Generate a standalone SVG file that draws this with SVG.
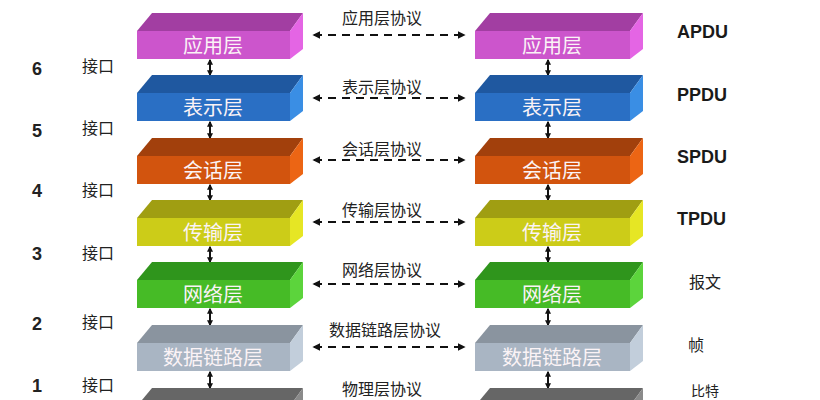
<svg xmlns="http://www.w3.org/2000/svg" width="820" height="400" viewBox="0 0 820 400">
<defs>
<style>
.lbl{font-family:"Noto Sans CJK SC",sans-serif;font-size:20px;fill:#fbf3f6;text-anchor:middle;}
.proto{font-family:"Noto Sans CJK SC",sans-serif;font-size:16px;fill:#222;text-anchor:middle;}
.num{font-family:"Liberation Sans",Arial,sans-serif;font-size:18px;font-weight:bold;fill:#222;text-anchor:middle;}
.if{font-family:"Noto Sans CJK SC",sans-serif;font-size:16px;fill:#222;text-anchor:middle;}
.pdu{font-family:"Liberation Sans",Arial,sans-serif;font-size:18px;font-weight:bold;fill:#1a1a1a;}
.pduc{font-family:"Noto Sans CJK SC",sans-serif;font-size:16px;fill:#222;text-anchor:middle;}
.dash{stroke:#111;stroke-width:2;stroke-dasharray:8,6;fill:none;marker-start:url(#ah);marker-end:url(#ah);}
.vert{stroke:#111;stroke-width:2;fill:none;marker-start:url(#vh);marker-end:url(#vh);}
</style>
<marker id="ah" viewBox="0 0 10 10" refX="8" refY="5" markerWidth="4" markerHeight="4" orient="auto-start-reverse"><path d="M0,0 L10,5 L0,10 z" fill="#111"/></marker>
<marker id="vh" viewBox="0 0 10 10" refX="8" refY="5" markerWidth="3" markerHeight="3" orient="auto-start-reverse"><path d="M0,0 L10,5 L0,10 z" fill="#111"/></marker>
</defs>
<rect width="820" height="400" fill="#ffffff"/>

<g id="connectors">
<line class="dash" x1="314" y1="35" x2="464" y2="35"/>
<line class="dash" x1="314" y1="98" x2="464" y2="98"/>
<line class="dash" x1="314" y1="160" x2="464" y2="160"/>
<line class="dash" x1="314" y1="222" x2="464" y2="222"/>
<line class="dash" x1="314" y1="284" x2="464" y2="284"/>
<line class="dash" x1="314" y1="347" x2="464" y2="347"/>
<line class="vert" x1="210" y1="60" x2="210" y2="75"/>
<line class="vert" x1="210" y1="122" x2="210" y2="138"/>
<line class="vert" x1="210" y1="185" x2="210" y2="200"/>
<line class="vert" x1="210" y1="247" x2="210" y2="262"/>
<line class="vert" x1="210" y1="309" x2="210" y2="325"/>
<line class="vert" x1="210" y1="372" x2="210" y2="388"/>
<line class="vert" x1="548" y1="60" x2="548" y2="75"/>
<line class="vert" x1="548" y1="122" x2="548" y2="138"/>
<line class="vert" x1="548" y1="185" x2="548" y2="200"/>
<line class="vert" x1="548" y1="247" x2="548" y2="262"/>
<line class="vert" x1="548" y1="309" x2="548" y2="325"/>
<line class="vert" x1="548" y1="372" x2="548" y2="388"/>
</g>

<g id="app-left" transform="translate(0,13)"><polygon points="152,0 303,0 290,18 137,18" fill="#a23ea2"/><rect x="137" y="18" width="153" height="28" fill="#cc55cc"/><polygon points="290,18 303,0 303,36 290,46" fill="#e465e4"/><text class="lbl" x="213" y="40">应用层</text></g>
<g id="app-right" transform="translate(0,13)"><polygon points="490,0 643,0 630,18 475,18" fill="#a23ea2"/><rect x="475" y="18" width="155" height="28" fill="#cc55cc"/><polygon points="630,18 643,0 643,36 630,46" fill="#e465e4"/><text class="lbl" x="552" y="40">应用层</text></g>

<g id="pres-left" transform="translate(0,75)"><polygon points="152,0 303,0 290,18 137,18" fill="#1f58a0"/><rect x="137" y="18" width="153" height="28" fill="#2a6fc4"/><polygon points="290,18 303,0 303,36 290,46" fill="#3a8ee4"/><text class="lbl" x="213" y="40">表示层</text></g>
<g id="pres-right" transform="translate(0,75)"><polygon points="490,0 643,0 630,18 475,18" fill="#1f58a0"/><rect x="475" y="18" width="155" height="28" fill="#2a6fc4"/><polygon points="630,18 643,0 643,36 630,46" fill="#3a8ee4"/><text class="lbl" x="552" y="40">表示层</text></g>

<g id="sess-left" transform="translate(0,138)"><polygon points="152,0 303,0 290,18 137,18" fill="#a2400c"/><rect x="137" y="18" width="153" height="28" fill="#d2540e"/><polygon points="290,18 303,0 303,36 290,46" fill="#ec6514"/><text class="lbl" x="213" y="40">会话层</text></g>
<g id="sess-right" transform="translate(0,138)"><polygon points="490,0 643,0 630,18 475,18" fill="#a2400c"/><rect x="475" y="18" width="155" height="28" fill="#d2540e"/><polygon points="630,18 643,0 643,36 630,46" fill="#ec6514"/><text class="lbl" x="552" y="40">会话层</text></g>

<g id="trans-left" transform="translate(0,200)"><polygon points="152,0 303,0 290,18 137,18" fill="#a09e12"/><rect x="137" y="18" width="153" height="28" fill="#cccc18"/><polygon points="290,18 303,0 303,36 290,46" fill="#e6e624"/><text class="lbl" x="213" y="40">传输层</text></g>
<g id="trans-right" transform="translate(0,200)"><polygon points="490,0 643,0 630,18 475,18" fill="#a09e12"/><rect x="475" y="18" width="155" height="28" fill="#cccc18"/><polygon points="630,18 643,0 643,36 630,46" fill="#e6e624"/><text class="lbl" x="552" y="40">传输层</text></g>

<g id="net-left" transform="translate(0,262)"><polygon points="152,0 303,0 290,18 137,18" fill="#2f951c"/><rect x="137" y="18" width="153" height="28" fill="#46bb26"/><polygon points="290,18 303,0 303,36 290,46" fill="#5cd43c"/><text class="lbl" x="213" y="40">网络层</text></g>
<g id="net-right" transform="translate(0,262)"><polygon points="490,0 643,0 630,18 475,18" fill="#2f951c"/><rect x="475" y="18" width="155" height="28" fill="#46bb26"/><polygon points="630,18 643,0 643,36 630,46" fill="#5cd43c"/><text class="lbl" x="552" y="40">网络层</text></g>

<g id="dl-left" transform="translate(0,325)"><polygon points="152,0 303,0 290,18 137,18" fill="#8a949f"/><rect x="137" y="18" width="153" height="28" fill="#a9b5c3"/><polygon points="290,18 303,0 303,36 290,46" fill="#c2cedb"/><text class="lbl" x="213" y="40">数据链路层</text></g>
<g id="dl-right" transform="translate(0,325)"><polygon points="490,0 643,0 630,18 475,18" fill="#8a949f"/><rect x="475" y="18" width="155" height="28" fill="#a9b5c3"/><polygon points="630,18 643,0 643,36 630,46" fill="#c2cedb"/><text class="lbl" x="552" y="40">数据链路层</text></g>

<g id="phys-left" transform="translate(0,388)"><polygon points="152,0 303,0 290,18 137,18" fill="#666666"/><polygon points="290,18 303,0 303,36 290,46" fill="#8a8a8a"/></g>
<g id="phys-right" transform="translate(0,388)"><polygon points="490,0 643,0 630,18 475,18" fill="#666666"/><polygon points="630,18 643,0 643,36 630,46" fill="#8a8a8a"/></g>

<g id="protocols">
<text class="proto" x="382" y="24">应用层协议</text>
<text class="proto" x="382" y="93">表示层协议</text>
<text class="proto" x="382" y="155">会话层协议</text>
<text class="proto" x="382" y="216">传输层协议</text>
<text class="proto" x="382" y="276">网络层协议</text>
<text class="proto" x="385" y="336">数据链路层协议</text>
<text class="proto" x="382" y="395">物理层协议</text>
</g>

<g id="interfaces">
<text class="num" x="37" y="75">6</text><text class="if" x="98" y="72">接口</text>
<text class="num" x="37" y="137">5</text><text class="if" x="98" y="134">接口</text>
<text class="num" x="37" y="197">4</text><text class="if" x="98" y="196">接口</text>
<text class="num" x="37" y="260">3</text><text class="if" x="98" y="259">接口</text>
<text class="num" x="37" y="330">2</text><text class="if" x="98" y="328">接口</text>
<text class="num" x="37" y="392">1</text><text class="if" x="98" y="391">接口</text>
</g>

<g id="pdus">
<text class="pdu" x="677" y="38">APDU</text>
<text class="pdu" x="677" y="101">PPDU</text>
<text class="pdu" x="677" y="163">SPDU</text>
<text class="pdu" x="677" y="225">TPDU</text>
<text class="pduc" x="705" y="288">报文</text>
<text class="pduc" x="696" y="351">帧</text>
<text class="pduc" x="705" y="396" style="font-size:14px">比特</text>
</g>
</svg>
